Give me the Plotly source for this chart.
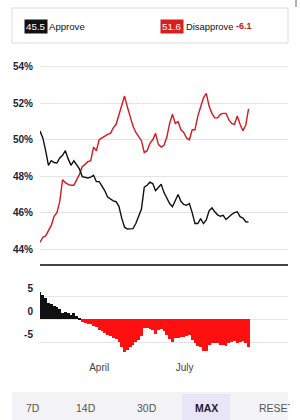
import plotly.graph_objects as go
from datetime import date, timedelta

# ---------------- data ----------------
start_date = date(2025, 1, 28)
day_offsets = list(range(0, 223, 3))

approve = [
    50.48, 50.1, 49.4, 48.6, 48.85, 48.75, 48.72, 49.0, 49.15, 49.4,
    48.95, 48.6, 48.85, 48.65, 48.4, 47.98, 47.95, 47.9, 47.95, 48.05,
    47.7, 47.7, 47.45, 47.2, 46.85, 46.75, 46.65, 46.6, 46.35, 45.7,
    45.2, 45.1, 45.12, 45.12, 45.4, 45.75, 46.2, 47.4, 47.5, 47.67,
    47.6, 47.2, 47.4, 47.56, 47.1, 46.8, 46.5, 46.32, 46.7, 47.0,
    46.62, 46.45, 46.4, 46.5, 46.0, 45.4, 45.4, 45.67, 45.4, 45.6,
    46.1, 46.26, 46.05, 45.88, 45.8, 45.85, 45.62, 45.78, 45.9, 46.0,
    46.05, 45.78, 45.7, 45.5, 45.48,
]
disapprove = [
    44.37, 44.65, 44.72, 45.0, 45.3, 45.8, 46.0, 46.6, 47.8, 47.65,
    47.55, 47.5, 47.5, 47.8, 48.1, 48.52, 48.65, 48.8, 48.85, 49.6,
    49.4, 50.0, 50.1, 50.2, 50.3, 50.35, 50.65, 50.85, 51.35, 51.9,
    52.4, 51.8, 51.2, 50.75, 50.4, 50.2, 49.95, 49.3, 49.4, 49.8,
    50.0, 50.35, 49.75, 49.6, 49.7, 50.15, 50.9, 51.4, 50.9, 51.0,
    50.55, 50.4, 50.1, 50.0, 50.55, 50.55, 51.3, 51.8, 52.3, 52.55,
    51.85, 51.45, 51.2, 51.2, 51.4, 51.45, 51.45, 51.1, 50.9, 50.85,
    51.3, 50.85, 50.5, 50.8, 51.7,
]

x_tick_dates = ["2025-04-01", "2025-07-01"]
x_tick_labels = ["April", "July"]
x_range = ["2025-01-28", "2025-10-19"]
y_ticks_main = [44, 46, 48, 50, 52, 54]
y_ticks_main_labels = ["44%", "46%", "48%", "50%", "52%", "54%"]
y_ticks_net = [-5, 0, 5]
y_ticks_net_labels = ["-5", "0", "5"]

approve_now = 45.5
disapprove_now = 51.6
net_now = -6.1

buttons = ["7D", "14D", "30D", "MAX", "RESET"]
selected_button = "MAX"

# ---------------- derived ----------------
dates = [(start_date + timedelta(days=d)).isoformat() for d in day_offsets]
net = [round(a - d, 2) for a, d in zip(approve, disapprove)]
bar_colors = ["#111111" if v >= 0 else "#ff1010" for v in net]
step_ms = 3 * 86400000

W, H = 300, 420
def px(X):
    return X / W
def py(Y):
    return 1 - Y / H

FONT = "Liberation Sans"

fig = go.Figure()
fig.add_trace(go.Scatter(x=dates, y=disapprove, mode="lines",
                         line=dict(color="#d11a22", width=1.4),
                         xaxis="x", yaxis="y", hoverinfo="skip"))
fig.add_trace(go.Scatter(x=dates, y=approve, mode="lines",
                         line=dict(color="#111111", width=1.4),
                         xaxis="x", yaxis="y", hoverinfo="skip"))
fig.add_trace(go.Bar(x=dates, y=net, width=step_ms,
                     marker=dict(color=bar_colors, line=dict(width=0)),
                     xaxis="x2", yaxis="y2", hoverinfo="skip"))

xdom = [px(40), px(288)]
fig.update_layout(
    width=W, height=H,
    margin=dict(l=0, r=0, t=0, b=0),
    paper_bgcolor="white", plot_bgcolor="white",
    showlegend=False, bargap=0,
    font=dict(family=FONT),
    xaxis=dict(domain=xdom, anchor="y", type="date", range=x_range,
               showticklabels=False, showgrid=False, zeroline=False,
               showline=True, linecolor="#444444", linewidth=1.5, ticks=""),
    yaxis=dict(domain=[py(264), py(60)], anchor="x", range=[43.18, 54.38],
               tickvals=y_ticks_main, ticktext=y_ticks_main_labels,
               showgrid=True, gridcolor="#e4e4e4", gridwidth=1,
               zeroline=False, showline=False, ticks="",
               ticklabelstandoff=6,
               tickfont=dict(size=10, color="#22223a", family=FONT, weight="bold")),
    xaxis2=dict(domain=xdom, anchor="y2", type="date", range=x_range,
                matches="x", tickvals=x_tick_dates, ticktext=x_tick_labels,
                showgrid=False, zeroline=False, showline=False, ticks="",
                tickfont=dict(size=10, color="#444444", family=FONT)),
    yaxis2=dict(domain=[py(360), py(282)], anchor="x2", range=[-9.0, 8.33],
                tickvals=y_ticks_net, ticktext=y_ticks_net_labels,
                showgrid=True, gridcolor="#e4e4e4", gridwidth=1,
                zeroline=True, zerolinecolor="#e4e4e4", zerolinewidth=1,
                showline=False, ticks="", ticklabelstandoff=6, ticklabelshift=-8,
                tickfont=dict(size=10, color="#22223a", family=FONT, weight="bold")),
)

shapes = []
# header box
shapes.append(dict(type="rect", xref="paper", yref="paper",
                   x0=px(12), x1=px(288), y0=py(43), y1=py(8),
                   line=dict(color="#dcdcdc", width=1), fillcolor="white", layer="below"))
# small scroll mark top right
shapes.append(dict(type="line", xref="paper", yref="paper",
                   x0=px(296), x1=px(296), y0=py(7), y1=py(0),
                   line=dict(color="#999999", width=1.5)))
# button bar
shapes.append(dict(type="rect", xref="paper", yref="paper",
                   x0=px(12), x1=px(288), y0=py(420), y1=py(392),
                   line=dict(width=0), fillcolor="#f3f3f6", layer="below"))
# selected button highlight
shapes.append(dict(type="rect", xref="paper", yref="paper",
                   x0=px(182), x1=px(230), y0=py(420), y1=py(394),
                   line=dict(width=0), fillcolor="#e8e6f6", layer="below"))
fig.update_layout(shapes=shapes)

ann = []
yh = py(26)
ann.append(dict(x=px(24), y=yh, xref="paper", yref="paper", xanchor="left", yanchor="middle",
                text=f"{approve_now:.1f}", showarrow=False, bgcolor="#111111", borderpad=1,
                font=dict(size=9.8, color="white", family=FONT)))
ann.append(dict(x=px(47), y=yh, xref="paper", yref="paper", xanchor="left", yanchor="middle",
                text="Approve", showarrow=False,
                font=dict(size=9.6, color="#111111", family=FONT)))
ann.append(dict(x=px(160), y=yh, xref="paper", yref="paper", xanchor="left", yanchor="middle",
                text=f"{disapprove_now:.1f}", showarrow=False, bgcolor="#d81e1e", borderpad=1,
                font=dict(size=9.8, color="white", family=FONT)))
ann.append(dict(x=px(184), y=yh, xref="paper", yref="paper", xanchor="left", yanchor="middle",
                text="Disapprove", showarrow=False,
                font=dict(size=9.4, color="#111111", family=FONT)))
ann.append(dict(x=px(234), y=yh, xref="paper", yref="paper", xanchor="left", yanchor="middle",
                text=f"{net_now:.1f}", showarrow=False,
                font=dict(size=9, color="#c8141e", family=FONT, weight="bold")))

# buttons
btn_centers = [33, 86, 147, 206, None]
yb = py(408)
for name, cx in zip(buttons, btn_centers):
    sel = name == selected_button
    if name == "RESET":
        ann.append(dict(x=px(257), y=yb, xref="paper", yref="paper", xanchor="left",
                        yanchor="middle", text=name, showarrow=False, width=31, align="left",
                        font=dict(size=10.5, color="#555555", family=FONT)))
    else:
        ann.append(dict(x=px(cx), y=yb, xref="paper", yref="paper", xanchor="center",
                        yanchor="middle", text=name, showarrow=False,
                        font=dict(size=10.5, color="#1c1c30" if sel else "#555555",
                                  family=FONT, weight="bold" if sel else "normal")))
fig.update_layout(annotations=ann)

fig.write_html("out.html")
